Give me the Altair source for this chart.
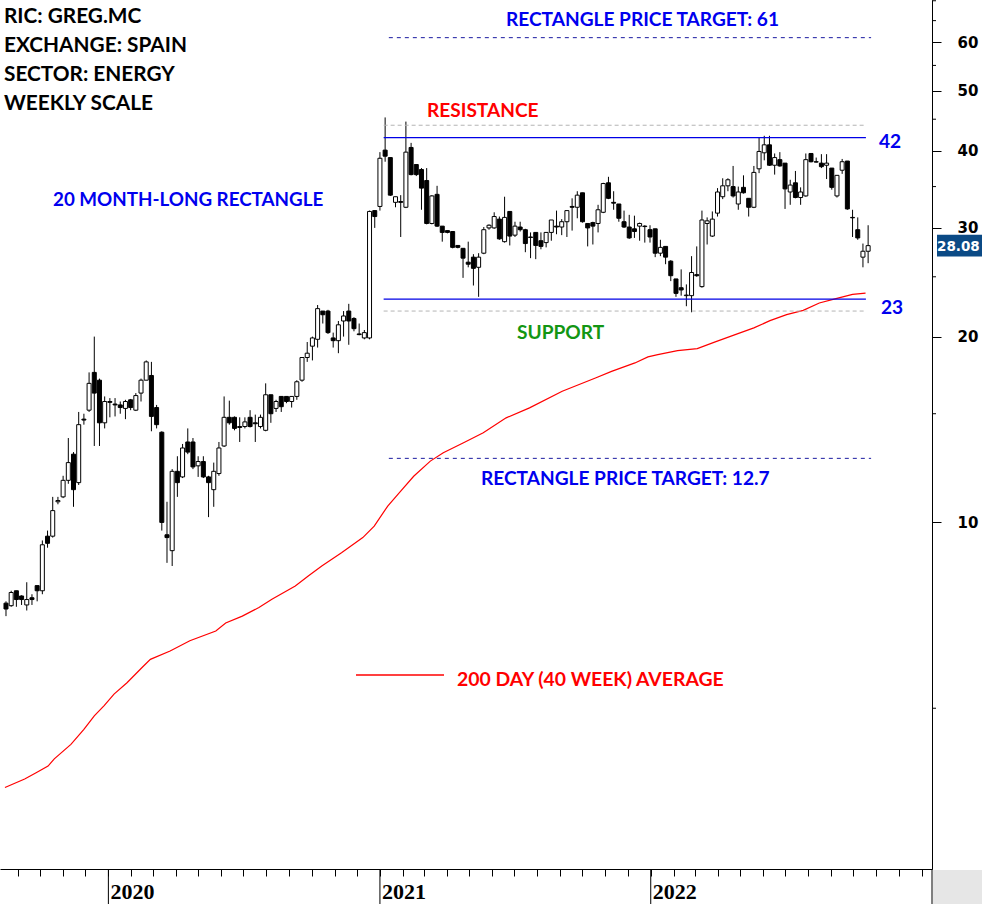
import altair as alt
import numpy as np
import pandas as pd

# ---------------- data ----------------
first_week = "2019-08-16"

opens = [7.40, 7.33, 7.75, 7.60, 7.35, 7.55, 7.90, 7.75, 9.50, 9.50,
         10.80, 11.00, 11.70, 12.90, 11.60, 14.70, 15.20, 17.50, 17.00, 14.50,
         15.70, 15.55, 15.50, 15.30, 15.80, 15.20, 16.20, 17.00, 17.30, 15.35,
         14.00, 9.55, 9.00, 12.10, 11.85, 13.50, 13.50, 12.35, 12.55, 11.85,
         11.30, 12.00, 13.30, 14.80, 14.80, 14.30, 14.30, 14.80, 14.50, 14.30,
         14.10, 16.10, 15.30, 16.00, 16.00, 15.70, 16.00, 17.00, 18.50, 19.30,
         19.80, 22.00, 22.00, 19.90, 19.70, 21.20, 22.00, 21.40, 20.20, 19.90,
         19.90, 32.00, 32.50, 40.10, 39.00, 33.00, 33.10, 32.40, 40.50, 38.00,
         37.30, 35.80, 30.50, 34.00, 30.20, 29.70, 29.60, 28.10, 27.80, 26.40,
         26.90, 25.90, 27.30, 30.00, 30.00, 31.00, 28.50, 31.90, 29.20, 30.10,
         29.80, 29.00, 29.50, 28.60, 28.40, 29.50, 30.20, 30.10, 30.70, 32.50,
         32.40, 34.20, 30.50, 30.60, 30.50, 31.80, 35.50, 33.00, 32.80, 30.70,
         30.10, 29.90, 30.20, 30.20, 29.80, 29.90, 27.30, 28.00, 26.50, 24.80,
         24.00, 23.30, 23.30, 25.20, 24.10, 30.50, 29.10, 31.70, 33.70, 35.10,
         35.00, 32.80, 34.90, 33.50, 32.40, 37.40, 39.70, 40.90, 37.90, 38.70,
         38.20, 34.30, 35.50, 33.60, 33.80, 39.60, 38.40, 38.20, 37.90, 37.50,
         33.80, 37.20, 38.50, 31.20, 29.80, 26.90, 27.50]

highs = [7.45, 7.75, 7.75, 7.62, 8.00, 7.65, 7.90, 9.35, 9.70, 11.00,
         11.00, 11.90, 13.70, 13.00, 15.10, 15.00, 17.50, 20.00, 17.10, 16.00,
         15.90, 15.90, 15.70, 15.80, 15.85, 16.20, 17.10, 18.30, 18.20, 15.50,
         14.05, 10.80, 12.20, 12.80, 13.40, 14.20, 13.70, 12.80, 12.80, 11.90,
         12.50, 13.50, 16.00, 15.75, 14.85, 14.80, 14.80, 15.20, 14.95, 14.95,
         16.80, 16.10, 15.80, 16.00, 16.00, 16.00, 17.00, 18.50, 19.60, 20.00,
         22.50, 22.00, 22.10, 20.30, 21.20, 22.00, 22.60, 21.50, 21.00, 20.50,
         32.00, 32.00, 39.80, 45.30, 39.00, 33.70, 33.90, 44.60, 41.20, 38.00,
         37.50, 37.50, 33.90, 35.10, 30.20, 29.70, 29.60, 28.10, 27.80, 28.50,
         27.20, 27.30, 30.10, 30.40, 31.80, 31.30, 33.70, 31.90, 30.70, 30.70,
         29.90, 29.50, 29.50, 29.50, 29.50, 30.90, 32.00, 31.00, 32.00, 33.50,
         34.40, 34.20, 30.50, 30.70, 32.70, 35.50, 36.30, 34.40, 32.80, 32.00,
         31.50, 31.40, 30.60, 30.30, 30.30, 29.90, 28.70, 28.00, 26.60, 24.80,
         25.70, 24.30, 27.00, 28.00, 32.00, 31.20, 31.90, 34.80, 36.10, 36.10,
         37.80, 35.00, 36.50, 33.50, 37.80, 42.10, 42.30, 42.30, 39.60, 39.80,
         38.20, 35.90, 37.10, 34.90, 39.60, 39.60, 39.00, 39.50, 39.50, 37.50,
         36.50, 38.80, 38.50, 32.10, 31.20, 28.30, 30.30]

lows = [7.05, 7.30, 7.30, 7.35, 7.20, 7.35, 7.45, 7.65, 9.10, 9.45,
        10.70, 10.95, 11.55, 10.60, 11.50, 14.40, 15.10, 13.30, 13.30, 14.20,
        14.80, 14.85, 15.00, 14.70, 15.20, 15.15, 15.70, 17.00, 14.05, 14.20,
        9.70, 8.60, 8.50, 11.00, 11.80, 12.90, 12.20, 11.85, 11.80, 10.20,
        10.60, 11.90, 13.25, 14.40, 14.10, 13.50, 14.20, 14.25, 13.50, 14.20,
        14.05, 14.50, 15.10, 15.10, 15.60, 15.35, 15.80, 16.90, 18.20, 18.30,
        19.20, 21.00, 20.20, 19.20, 18.80, 20.00, 19.40, 20.40, 20.10, 19.80,
        19.80, 30.00, 32.00, 38.40, 33.80, 32.40, 29.00, 32.30, 36.50, 36.40,
        32.10, 30.40, 30.40, 30.10, 28.50, 29.40, 27.80, 27.80, 24.90, 25.90,
        24.20, 23.20, 27.20, 29.80, 29.90, 28.70, 28.40, 28.10, 29.00, 29.60,
        27.40, 26.80, 26.70, 27.70, 27.90, 28.60, 29.30, 29.20, 29.00, 29.70,
        31.10, 30.60, 28.00, 28.20, 29.50, 31.70, 33.40, 32.10, 30.70, 30.00,
        28.80, 28.90, 28.60, 28.40, 28.40, 26.90, 27.00, 26.20, 24.60, 23.20,
        23.30, 22.40, 21.90, 25.00, 24.00, 28.20, 29.00, 31.30, 33.40, 34.40,
        33.60, 32.10, 34.10, 31.30, 32.30, 36.80, 38.60, 37.80, 36.60, 37.70,
        32.20, 32.70, 33.50, 32.70, 33.70, 38.30, 38.30, 37.50, 36.00, 34.60,
        33.60, 36.70, 32.10, 29.00, 28.70, 25.90, 26.30]

closes = [7.24, 7.70, 7.50, 7.50, 7.50, 7.50, 7.75, 9.20, 9.25, 10.45,
          10.85, 11.70, 12.50, 11.30, 14.40, 14.65, 16.80, 16.20, 14.50, 15.70,
          15.65, 15.50, 15.35, 15.70, 15.35, 16.05, 17.00, 18.20, 14.85, 14.40,
          10.00, 9.45, 12.10, 11.60, 13.20, 13.00, 12.30, 12.55, 11.85, 11.60,
          12.10, 13.20, 14.80, 14.50, 14.20, 14.25, 14.55, 14.30, 14.45, 14.80,
          16.10, 15.00, 15.70, 15.40, 15.70, 16.00, 16.90, 18.50, 18.80, 19.90,
          22.20, 21.70, 20.30, 19.70, 20.90, 21.60, 21.20, 20.60, 20.15, 20.30,
          31.90, 31.30, 38.90, 39.20, 33.90, 33.70, 33.00, 39.80, 36.60, 36.60,
          34.80, 30.50, 33.80, 30.20, 29.50, 29.50, 27.90, 27.90, 26.80, 26.20,
          25.80, 26.90, 29.80, 30.30, 31.30, 28.80, 31.20, 29.10, 30.20, 29.80,
          28.30, 28.95, 28.10, 28.00, 29.50, 30.90, 30.10, 30.70, 32.00, 32.40,
          33.90, 30.70, 30.00, 30.20, 32.10, 35.40, 33.50, 32.90, 31.10, 30.10,
          28.90, 29.60, 30.50, 30.15, 29.00, 27.30, 27.90, 26.90, 25.10, 23.50,
          23.80, 23.35, 25.40, 25.10, 30.90, 30.80, 31.00, 34.30, 35.10, 35.90,
          33.80, 34.30, 34.20, 32.40, 36.90, 39.90, 40.90, 37.90, 39.00, 37.80,
          34.70, 35.20, 33.60, 34.30, 38.70, 38.40, 38.35, 37.70, 38.20, 34.90,
          36.50, 38.40, 32.20, 31.15, 28.90, 27.50, 28.08]

# 40-week moving average, read at positions given in weeks from the first bar
ma_week = [-0.2, 3.6, 5.8, 8.1, 9.3, 12.5, 15.0, 17.0, 18.9, 20.8,
           23.3, 26.2, 27.8, 31.6, 35.4, 40.4, 42.3, 45.5, 48.7, 51.2,
           55.7, 58.2, 60.8, 64.6, 68.7, 70.9, 73.5, 76.0, 78.5, 81.7,
           84.2, 88.1, 91.9, 96.3, 100.8, 107.1, 113.5, 116.6, 121.1, 123.6,
           125.5, 129.3, 133.1, 136.3, 140.8, 144.0, 147.1, 150.3, 153.5, 156.6,
           159.8, 163.0, 165.5]
ma_value = [3.72, 3.84, 3.93, 4.03, 4.14, 4.37, 4.62, 4.86, 5.05, 5.27,
            5.50, 5.82, 6.00, 6.19, 6.43, 6.67, 6.87, 7.05, 7.28, 7.51,
            7.89, 8.19, 8.50, 8.93, 9.45, 9.86, 10.63, 11.24, 11.88, 12.57,
            12.97, 13.46, 13.97, 14.77, 15.33, 16.31, 17.14, 17.57, 18.13, 18.54,
            18.70, 18.98, 19.12, 19.57, 20.20, 20.66, 21.23, 21.71, 22.06, 22.67,
            23.04, 23.41, 23.53]

# rectangle levels
level_prices = [42, 23]            # resistance / support
band_prices = [44.0, 22.0]         # dashed grey bands
target_prices = [61, 12.7]         # price targets
level_span = ["2021-01-06", "2022-10-18"]
target_span = ["2021-01-13", "2022-10-25"]

year_labels = ["2020", "2021", "2022"]
axis_values = [10, 20, 30, 40, 50, 60]
minor_values = [5, 15, 25, 35, 45, 55, 65, 70]

# ---------------- tables ----------------
dates = pd.date_range(first_week, periods=len(closes), freq="7D")
candles = pd.DataFrame({"date": dates, "open": opens, "high": highs,
                        "low": lows, "close": closes})
candles["dir"] = np.where(candles["close"] >= candles["open"], "up", "down")

ma = pd.DataFrame({
    "date": pd.Timestamp(first_week) + pd.to_timedelta(np.array(ma_week) * 7, unit="D"),
    "ma": ma_value})

levels = pd.DataFrame({"start": pd.to_datetime([level_span[0]] * 2),
                       "end": pd.to_datetime([level_span[1]] * 2),
                       "price": level_prices})
bands = pd.DataFrame({"start": pd.to_datetime([level_span[0]] * 2),
                      "end": pd.to_datetime([level_span[1]] * 2),
                      "price": band_prices})
targets = pd.DataFrame({"start": pd.to_datetime([target_span[0]] * 2),
                        "end": pd.to_datetime([target_span[1]] * 2),
                        "price": target_prices})
years = pd.DataFrame({"date": pd.to_datetime([y + "-01-01" for y in year_labels]),
                      "label": year_labels})
minors = pd.DataFrame({"v": minor_values})
last = pd.DataFrame({"close": [closes[-1]]})
one = pd.DataFrame({"k": [0]})

# ---------------- layout ----------------
W, H = 932, 869
ANN = "Lato"
BLUE = "#0000ee"
RED = "#ff0000"

x_scale = alt.Scale(domain=[alt.DateTime(year=2019, month=8, date=14, hours=16),
                            alt.DateTime(year=2023, month=1, date=8, hours=8)])
y_scale = alt.Scale(type="log", domain=[2.745, 70.2], nice=False)

x_axis = alt.Axis(title=None, labels=False, grid=False, tickSize=7,
                  tickCount={"interval": "month", "step": 1},
                  domainColor="black", tickColor="black", domainWidth=1, tickWidth=1)
y_axis = alt.Axis(title=None, orient="right", values=axis_values, grid=False,
                  tickSize=9, labelPadding=16, format="~g",
                  labelFont="DejaVu Sans", labelFontWeight="bold", labelFontSize=15,
                  labelColor="black", labelAlign="left", labelBaseline="middle",
                  domainColor="black", tickColor="black")

base = alt.Chart(candles)
wicks = base.mark_rule(color="black", strokeWidth=1).encode(
    x=alt.X("date:T", scale=x_scale, axis=x_axis),
    y=alt.Y("low:Q", scale=y_scale, axis=y_axis),
    y2="high:Q")
bodies = base.mark_bar(size=4, orient="vertical", stroke="black", strokeWidth=1).encode(
    x="date:T", y="open:Q", y2="close:Q",
    fill=alt.Fill("dir:N", scale=alt.Scale(domain=["up", "down"], range=["white", "black"]),
                  legend=None))

ma_line = alt.Chart(ma).mark_line(color=RED, strokeWidth=1.2, clip=True).encode(
    x="date:T", y="ma:Q")

res_sup = alt.Chart(levels).mark_rule(color="#0000e6", strokeWidth=1.2).encode(
    x="start:T", x2="end:T", y="price:Q")
grey = alt.Chart(bands).mark_rule(color="#b4b4b4", strokeWidth=1, strokeDash=[4, 3]).encode(
    x="start:T", x2="end:T", y="price:Q")
tgt = alt.Chart(targets).mark_rule(color="#1a1aa0", strokeWidth=1, strokeDash=[4, 4]).encode(
    x="start:T", x2="end:T", y="price:Q")

minor_ticks = alt.Chart(minors).mark_rule(color="black").encode(
    y="v:Q", x=alt.value(W), x2=alt.value(W + 4))

year_ticks = alt.Chart(years).mark_rule(color="black").encode(
    x="date:T", y=alt.value(H), y2=alt.value(904))
year_text = alt.Chart(years).mark_text(
    align="left", baseline="alphabetic", dx=2, font="Liberation Sans Narrow",
    fontWeight="bold", fontSize=22, color="black").encode(
    x="date:T", y=alt.value(899), text="label:N")

corner = alt.Chart(one).mark_rect(color="#e6e6e6").encode(
    x=alt.value(W + 1), x2=alt.value(W + 60), y=alt.value(H + 1), y2=alt.value(910))
corner_line = alt.Chart(one).mark_rule(color="black").encode(
    x=alt.value(W), y=alt.value(H), y2=alt.value(904))

last_box = alt.Chart(last).transform_calculate(
    lo="datum.close / 1.0418", hi="datum.close * 1.0418").mark_rect(color="#0b4a85").encode(
    x=alt.value(W + 5), x2=alt.value(W + 70), y="lo:Q", y2="hi:Q")
last_text = alt.Chart(last).mark_text(
    align="left", baseline="middle", font="DejaVu Sans", fontWeight="bold",
    fontSize=13.5, color="white", dy=1).encode(
    x=alt.value(W + 5), y="close:Q", text=alt.Text("close:Q", format=".2f"))


def note(txt, x, y, color, size=19.1):
    return alt.Chart(one).mark_text(
        text=txt, align="left", baseline="alphabetic", font=ANN, fontWeight="bold",
        fontSize=size, color=color).encode(x=alt.value(x), y=alt.value(y))


notes = [
    note("RIC: GREG.MC", 4, 23, "black", 20.8),
    note("EXCHANGE: SPAIN", 4, 52, "black", 20.8),
    note("SECTOR: ENERGY", 4, 81, "black", 20.8),
    note("WEEKLY SCALE", 4, 110, "black", 20.8),
    note("20 MONTH-LONG RECTANGLE", 53, 206, BLUE, 18.8),
    note("RECTANGLE PRICE TARGET: 61", 506, 26, BLUE),
    note("RESISTANCE", 427, 117, RED),
    note("42", 879, 148, BLUE),
    note("23", 881, 314, BLUE),
    note("SUPPORT", 517, 339, "#139613"),
    note("RECTANGLE PRICE TARGET: 12.7", 481, 485, BLUE),
    note("200 DAY (40 WEEK) AVERAGE", 457, 686, RED, 19.4),
]
legend_line = alt.Chart(one).mark_rule(color=RED, strokeWidth=1.5).encode(
    x=alt.value(356), x2=alt.value(444), y=alt.value(675))

chart = alt.layer(
    wicks, bodies, ma_line, grey, res_sup, tgt, minor_ticks,
    year_ticks, year_text, corner, corner_line, last_box, last_text,
    legend_line, *notes
).properties(
    width=W, height=H,
    padding={"left": 0, "top": 0, "right": 50, "bottom": 35},
    autosize=alt.AutoSizeParams(type="none"),
    background="white",
).configure_view(strokeWidth=0)

chart.save("out.html", embed_options={"renderer": "svg", "actions": False})
